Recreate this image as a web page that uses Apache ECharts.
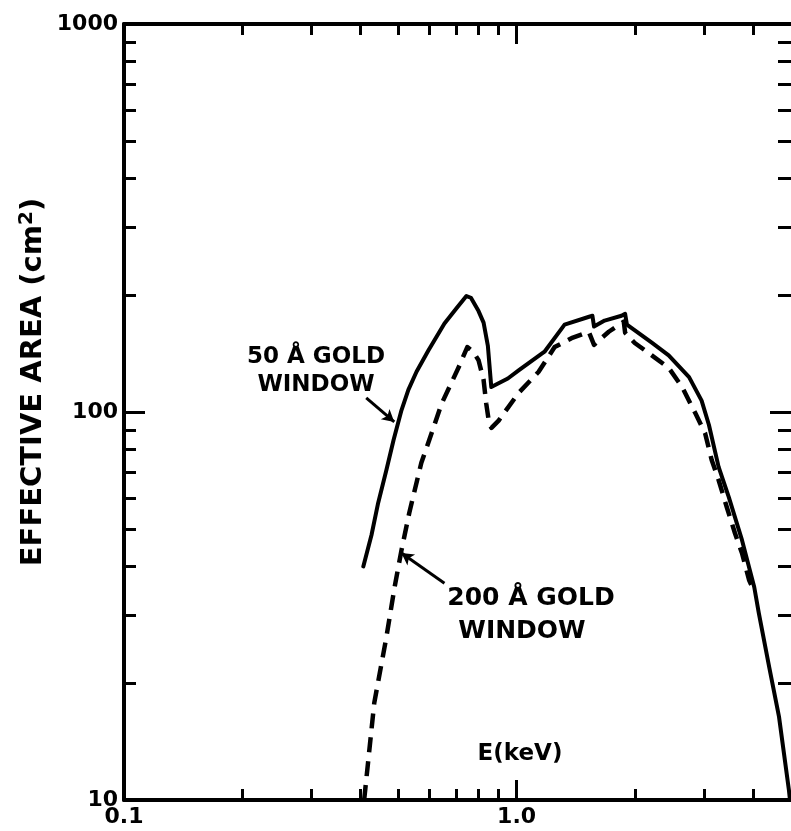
<!DOCTYPE html>
<html>
<head>
<meta charset="utf-8">
<script src="https://cdn.jsdelivr.net/npm/echarts@6/dist/echarts.min.js"></script>
<style>
html,body{margin:0;padding:0;background:#fff;}
#chart{width:791px;height:831px;}
</style>
</head>
<body>
<div id="chart"></div>
<script>
// ---- data ----
const xLabelValues = [0.1, 1];
const xMinorTicks = [0.2, 0.3, 0.4, 0.5, 0.6, 0.7, 0.8, 0.9, 2, 3, 4];
const xMajorTicks = [1];
const yLabelValues = [10, 100, 1000];
const yMinorTicks = [20, 30, 40, 50, 60, 70, 80, 90, 200, 300, 400, 500, 600, 700, 800, 900];
const yMajorTicks = [100];

const gold50 = [
  [0.407, 40], [0.427, 48.2], [0.444, 58.3], [0.466, 70.9], [0.486, 84.7], [0.509, 101],
  [0.530, 114], [0.556, 127], [0.596, 144], [0.655, 169], [0.703, 185], [0.745, 199],
  [0.765, 197], [0.80, 182], [0.824, 170], [0.845, 148], [0.862, 116], [0.95, 122],
  [1.012, 128], [1.178, 143], [1.325, 168], [1.53, 176], [1.56, 177], [1.575, 166],
  [1.676, 172], [1.85, 177], [1.89, 179], [1.91, 168], [2.21, 151], [2.44, 140],
  [2.75, 123], [2.96, 107], [3.09, 92.6], [3.27, 72.2], [3.47, 60.4], [3.75, 46.8],
  [4.03, 35.4], [4.14, 30.3], [4.40, 22], [4.66, 16.4], [4.94, 10.6], [4.97, 10]
];
const gold200 = [
  [0.409, 10], [0.434, 17.8], [0.466, 26.3], [0.489, 35.4], [0.509, 44], [0.533, 55],
  [0.572, 74], [0.607, 88], [0.644, 105], [0.711, 130], [0.749, 147], [0.775, 143],
  [0.80, 136], [0.824, 121], [0.837, 105], [0.852, 93], [0.863, 91], [0.90, 95],
  [1.012, 112], [1.138, 127], [1.25, 147], [1.38, 155], [1.527, 161], [1.575, 149],
  [1.717, 161], [1.875, 171], [1.89, 160], [2.0, 150.6], [2.21, 140], [2.44, 130],
  [2.64, 116], [2.85, 99.5], [3.02, 88.3], [3.14, 75.2], [3.27, 66.8], [3.43, 56.9],
  [3.60, 48.7], [3.75, 43.3], [3.91, 36.9], [4.03, 34.5]
];
const arrow50 = [[0.414, 108.7], [0.488, 94.3]];
const arrow200 = [[0.655, 36.2], [0.509, 43.3]];

// ---- chart ----
const FONT = 'DejaVu Sans';
const chart = echarts.init(document.getElementById('chart'), null, {renderer: 'canvas'});

function xAxisDef(pos, ticks, len, showLine, showLabel) {
  return {
    type: 'log', logBase: 10, min: 0.1, max: 5, position: pos,
    axisLine: {show: showLine, lineStyle: {color: '#000', width: 4}},
    axisTick: {show: true, inside: true, length: len, customValues: ticks,
      lineStyle: {color: '#000', width: 3}},
    axisLabel: {show: showLabel, customValues: xLabelValues, margin: 6,
      color: '#000', fontFamily: FONT, fontWeight: 'bold', fontSize: 22,
      formatter: v => (Math.abs(v - 1) < 1e-9 ? '1.0' : '0.1')},
    splitLine: {show: false}, minorTick: {show: false}
  };
}
function yAxisDef(pos, ticks, len, showLine, showLabel) {
  return {
    type: 'log', logBase: 10, min: 10, max: 1000, position: pos,
    axisLine: {show: showLine, lineStyle: {color: '#000', width: 4}},
    axisTick: {show: true, inside: true, length: len, customValues: ticks,
      lineStyle: {color: '#000', width: 3}},
    axisLabel: {show: showLabel, customValues: yLabelValues, margin: 6,
      color: '#000', fontFamily: FONT, fontWeight: 'bold', fontSize: 22,
      formatter: v => String(Math.round(v))},
    splitLine: {show: false}, minorTick: {show: false}
  };
}

const option = {
  animation: false,
  backgroundColor: '#fff',
  grid: {left: 124, right: 0, top: 24, bottom: 31, containLabel: false},
  xAxis: [
    xAxisDef('bottom', xMinorTicks, 11, true, true),
    xAxisDef('bottom', xMajorTicks, 20, false, false),
    xAxisDef('top', xMinorTicks, 11, true, false),
    xAxisDef('top', xMajorTicks, 20, false, false)
  ],
  yAxis: [
    yAxisDef('left', yMinorTicks, 12, true, true),
    yAxisDef('left', yMajorTicks, 21, false, false),
    yAxisDef('right', yMinorTicks, 13, false, false),
    yAxisDef('right', yMajorTicks, 21, false, false)
  ],
  series: [
    {
      name: '50 Å GOLD WINDOW', type: 'line', data: gold50, showSymbol: false, symbol: 'none',
      xAxisIndex: 0, yAxisIndex: 0, smooth: false,
      lineStyle: {color: '#000', width: 4, cap: 'round', join: 'round'},
      markLine: {
        silent: true, symbol: ['none', 'arrow'], symbolSize: [10, 12],
        lineStyle: {color: '#000', width: 3, type: 'solid'}, label: {show: false},
        data: [[{coord: arrow50[0]}, {coord: arrow50[1]}]]
      }
    },
    {
      name: '200 Å GOLD WINDOW', type: 'line', data: gold200, showSymbol: false, symbol: 'none',
      xAxisIndex: 0, yAxisIndex: 0, smooth: false,
      lineStyle: {color: '#000', width: 4.5, type: [15, 9], cap: 'butt', join: 'round'},
      markLine: {
        silent: true, symbol: ['none', 'arrow'], symbolSize: [10, 12],
        lineStyle: {color: '#000', width: 3, type: 'solid'}, label: {show: false},
        data: [[{coord: arrow200[0]}, {coord: arrow200[1]}]]
      }
    }
  ],
  graphic: [
    {type: 'text', x: 316, y: 357, style: {text: '50 Å GOLD', fill: '#000', font: 'bold 23px "DejaVu Sans"', textAlign: 'center', textVerticalAlign: 'middle'}},
    {type: 'text', x: 316, y: 385, style: {text: 'WINDOW', fill: '#000', font: 'bold 23px "DejaVu Sans"', textAlign: 'center', textVerticalAlign: 'middle'}},
    {type: 'text', x: 531, y: 598, style: {text: '200 Å GOLD', fill: '#000', font: 'bold 25px "DejaVu Sans"', textAlign: 'center', textVerticalAlign: 'middle'}},
    {type: 'text', x: 522, y: 631, style: {text: 'WINDOW', fill: '#000', font: 'bold 25px "DejaVu Sans"', textAlign: 'center', textVerticalAlign: 'middle'}},
    {type: 'text', x: 520, y: 754, style: {text: 'E(keV)', fill: '#000', font: 'bold 23px "DejaVu Sans"', textAlign: 'center', textVerticalAlign: 'middle'}},
    {type: 'text', x: 33, y: 382, rotation: Math.PI / 2,
      style: {text: 'EFFECTIVE AREA (cm{sup|2})', fill: '#000', font: 'bold 29px "DejaVu Sans"',
        textAlign: 'center', textVerticalAlign: 'middle',
        rich: {sup: {font: 'bold 20px "DejaVu Sans"', fill: '#000', verticalAlign: 'top', padding: [0, 0, 13, 0]}}}}
  ]
};
chart.setOption(option);
</script>
</body>
</html>
